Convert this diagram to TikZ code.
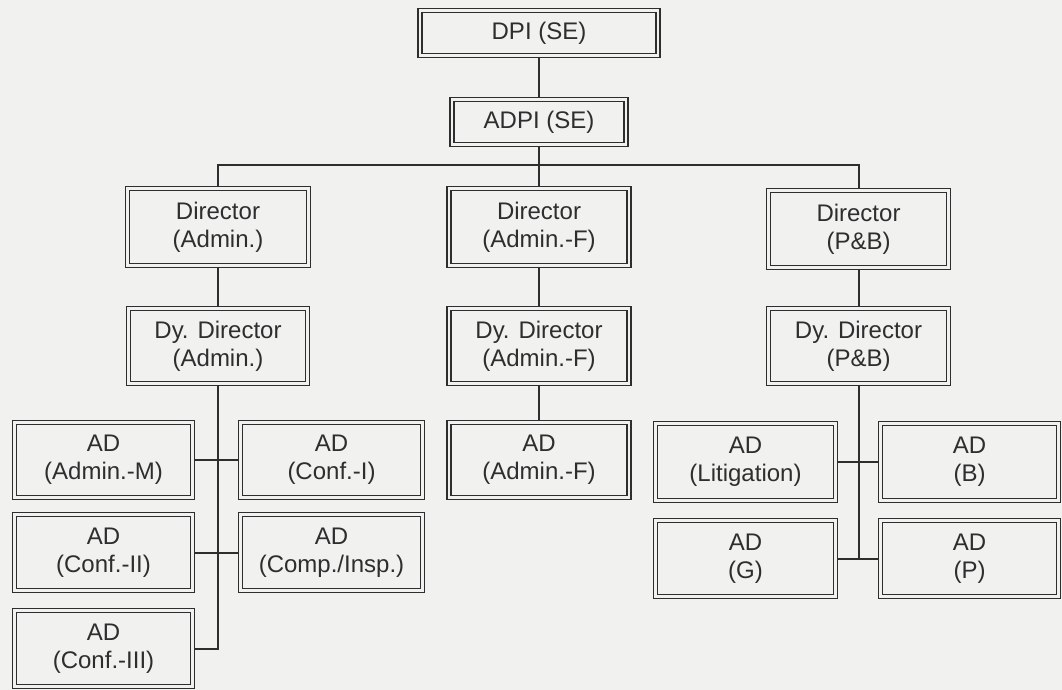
\documentclass[tikz,border=0pt]{standalone}
\usepackage{fontspec}
\setmainfont{Liberation Sans}
\definecolor{paper}{HTML}{F1F1EF}
\definecolor{ink}{HTML}{2E2E2E}
\tikzset{
  orgbox/.style={draw=ink, line width=1.5pt, double=paper, double distance=2.6pt,
    fill=paper, text=ink, align=center, inner sep=2pt, outer sep=2.8pt,
    font=\fontsize{24}{28}\selectfont},
  link/.style={draw=ink, line width=2pt}
}
\begin{document}
\begin{tikzpicture}[x=1pt,y=-1pt]
\fill[paper] (0,0) rectangle (1062,690);
\useasboundingbox (0,0) rectangle (1062,690);
% top
\node[orgbox, minimum width=238, minimum height=45] (dpi) at (539,33) {DPI (SE)};
\node[orgbox, minimum width=174, minimum height=45] (adpi) at (539,122) {ADPI (SE)};
% directors
\node[orgbox, minimum width=181, minimum height=77] (d1) at (218,227) {Director\\(Admin.)};
\node[orgbox, minimum width=180, minimum height=77] (d2) at (539,227) {Director\\(Admin.-F)};
\node[orgbox, minimum width=180, minimum height=77] (d3) at (858.5,229) {Director\\(P\&B)};
% deputy directors
\node[orgbox, minimum width=179, minimum height=75] (dd1) at (218,346) {Dy. Director\\(Admin.)};
\node[orgbox, minimum width=180, minimum height=75] (dd2) at (539,346) {Dy. Director\\(Admin.-F)};
\node[orgbox, minimum width=180, minimum height=75] (dd3) at (858.5,346) {Dy. Director\\(P\&B)};
% ADs left
\node[orgbox, minimum width=178, minimum height=75] (a1) at (103.5,460) {AD\\(Admin.-M)};
\node[orgbox, minimum width=182, minimum height=75] (a2) at (331.5,460) {AD\\(Conf.-I)};
\node[orgbox, minimum width=178, minimum height=76] (a3) at (103.5,552.5) {AD\\(Conf.-II)};
\node[orgbox, minimum width=182, minimum height=76] (a4) at (331.5,552.5) {AD\\(Comp./Insp.)};
\node[orgbox, minimum width=178, minimum height=76] (a5) at (103.5,648.5) {AD\\(Conf.-III)};
% AD middle
\node[orgbox, minimum width=180, minimum height=75] (af) at (539,460) {AD\\(Admin.-F)};
% ADs right
\node[orgbox, minimum width=180, minimum height=77] (l1) at (745.5,462) {AD\\(Litigation)};
\node[orgbox, minimum width=178, minimum height=77] (b) at (969.5,462) {AD\\(B)};
\node[orgbox, minimum width=180, minimum height=76] (g) at (745.5,558.5) {AD\\(G)};
\node[orgbox, minimum width=178, minimum height=76] (p) at (969.5,558.5) {AD\\(P)};
% connectors
\coordinate (bar) at (539,165);
\draw[link] (dpi.south) -- (adpi.north);
\draw[link] (adpi.south) -- (bar);
\draw[link] (d1.north) |- (bar) -| (d3.north);
\draw[link] (d2.north) -- (d2.north |- bar);
\draw[link] (d1.south) -- (dd1.north);
\draw[link] (d2.south) -- (dd2.north);
\draw[link] (d3.south) -- (dd3.north);
\draw[link] (dd2.south) -- (af.north);
% left tree
\draw[link] (dd1.south) -- (dd1.south |- a5.east) -- (a5.east);
\draw[link] (a1.east) -- (a2.west);
\draw[link] (a3.east) -- (a4.west);
% right tree
\draw[link] (dd3.south) -- (dd3.south |- g.east);
\draw[link] (l1.east) -- (b.west);
\draw[link] (g.east) -- (p.west);
\end{tikzpicture}
\end{document}
